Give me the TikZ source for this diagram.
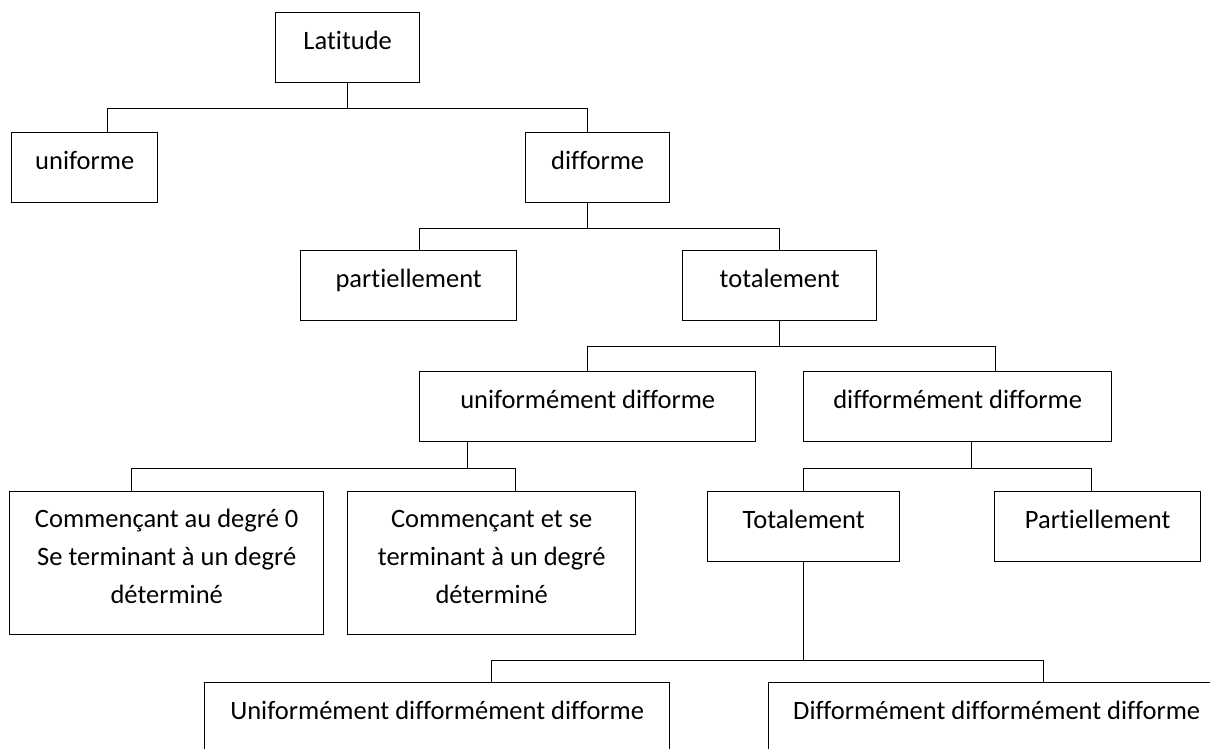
\documentclass[tikz,border=0pt]{standalone}
\usepackage{fontspec}
\setmainfont{Carlito}[Ligatures={NoCommon}]
\usepackage{tikz}
\usetikzlibrary{calc}
\tikzset{
    every picture/.style={x=1pt, y=-1pt},
    % boxes of the tree
    box/.style={rectangle, draw, line width=1.4pt, anchor=north west, inner sep=0pt,
        minimum height=70pt, text height=37pt, text depth=33pt,
        font=\fontsize{26.5}{38}\selectfont},
    tallbox/.style={box, align=flush center, text height=36pt, text depth=107pt},
    % connectors
    link/.style={line width=1.4pt}
}

\begin{document}
\begin{tikzpicture}
    \useasboundingbox (0,0) rectangle (1210,749);
    \clip (0,0) rectangle (1210,749);

    % Level 0
    \node[box, minimum width=144pt] (lat) at (275,12) {Latitude};

    % Level 1
    \node[box, minimum width=146pt] (unif) at (11,132) {uniforme};
    \node[box, minimum width=144pt] (diff) at (525,132) {difforme};

    % Level 2
    \node[box, minimum width=216pt] (part) at (300,250) {partiellement};
    \node[box, minimum width=194pt] (tot) at (682,250) {totalement};

    % Level 3
    \node[box, minimum width=336pt] (unifdiff) at (419,371) {uniformément difforme};
    \node[box, minimum width=308pt] (diffdiff) at (803,371) {difformément difforme};

    % Level 4
    \node[tallbox, text width=314pt] (deg0) at (9,491) {Commençant au degré 0\\Se terminant à un degré\\déterminé};
    \node[tallbox, text width=288pt] (degdet) at (347,491) {Commençant et se\\terminant à un degré\\déterminé};
    \node[box, minimum width=192pt] (totdd) at (707,491) {Totalement};
    \node[box, minimum width=206pt] (partdd) at (994,491) {Partiellement};

    % Level 5
    \node[box, minimum width=465pt] (uniddd) at (204,682) {Uniformément difformément difforme};
    \node[box, minimum width=456pt] (diffddd) at (768,682) {Difformément difformément difforme};

    % Connectors
    \draw[link] (lat.south) -- ++(0,25);
    \draw[link] ($(unif.north)+(23,0)$) |- ($(lat.south)+(0,25)$) -| ($(diff.north)+(-10,0)$);

    \draw[link] ($(diff.south)+(-10,0)$) -- ++(0,25);
    \draw[link] ($(part.north)+(11,0)$) |- ($(diff.south)+(-10,25)$) -| (tot.north);

    \draw[link] (tot.south) -- ++(0,25);
    \draw[link] (unifdiff.north) |- ($(tot.south)+(0,25)$) -| ($(diffdiff.north)+(38,0)$);

    \draw[link] ($(unifdiff.south)+(-120,0)$) -- ++(0,26);
    \draw[link] ($(deg0.north)+(-35,0)$) |- ($(unifdiff.south)+(-120,26)$) -| ($(degdet.north)+(24,0)$);

    \draw[link] ($(diffdiff.south)+(14,0)$) -- ++(0,26);
    \draw[link] (totdd.north) |- ($(diffdiff.south)+(14,26)$) -| ($(partdd.north)+(-6,0)$);

    \draw[link] (totdd.south) -- ++(0,98);
    \draw[link] ($(uniddd.north)+(54,0)$) |- ($(totdd.south)+(0,98)$) -| ($(diffddd.north)+(47,0)$);
\end{tikzpicture}
\end{document}
